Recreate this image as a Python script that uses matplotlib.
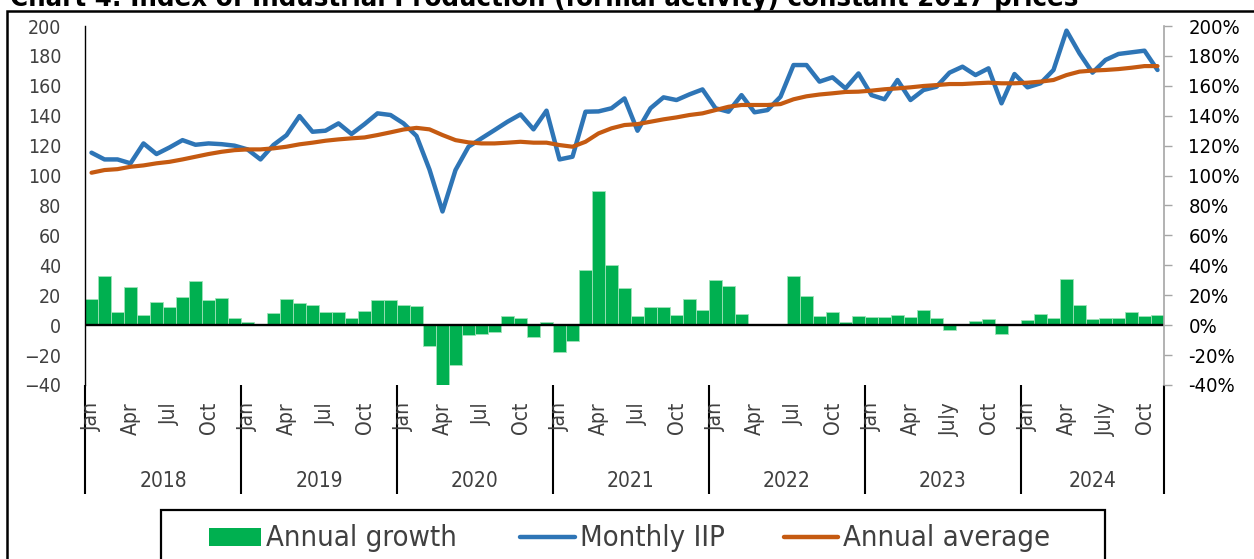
import numpy as np
import matplotlib
matplotlib.use("Agg")
import matplotlib.pyplot as plt
from matplotlib.patches import Rectangle
from matplotlib.lines import Line2D

plt.rcParams['font.family'] = ['DejaVu Sans']
plt.rcParams['font.stretch'] = 'condensed'

# ---------------- data ----------------
years = ['2018', '2019', '2020', '2021', '2022', '2023', '2024']
months_per_year = [12, 12, 12, 12, 12, 12, 11]
month_labels = {
    '2018': ['Jan', 'Apr', 'Jul', 'Oct'],
    '2019': ['Jan', 'Apr', 'Jul', 'Oct'],
    '2020': ['Jan', 'Apr', 'Jul', 'Oct'],
    '2021': ['Jan', 'Apr', 'Jul', 'Oct'],
    '2022': ['Jan', 'Apr', 'Jul', 'Oct'],
    '2023': ['Jan', 'Apr', 'July', 'Oct'],
    '2024': ['Jan', 'Apr', 'July', 'Oct'],
}
label_month_index = [0, 3, 6, 9]

monthly_iip = [115.3, 110.8, 110.8, 108.2, 121.5, 114.4, 118.8, 123.7, 120.6, 121.5, 121.0, 120.0,
               117.5, 110.8, 120.5, 127.0, 139.8, 129.3, 130.0, 134.9, 127.8, 134.4, 141.6, 140.5,
               134.9, 126.5, 104.0, 76.0, 103.7, 119.3, 124.9, 130.4, 136.0, 140.9, 130.9, 143.4,
               110.8, 112.6, 142.7, 142.9, 145.0, 151.6, 130.0, 145.0, 152.3, 150.5, 154.3, 157.6,
               145.0, 142.7, 153.8, 142.3, 143.8, 152.7, 173.9, 173.9, 162.8, 165.7, 158.3, 168.3,
               153.8, 151.0, 163.9, 150.5, 157.2, 159.4, 168.8, 172.8, 167.2, 171.7, 148.3, 167.9,
               159.0, 161.7, 170.6, 196.9, 181.7, 168.8, 177.3, 181.3, 182.4, 183.5, 170.6]

annual_average = [101.9, 103.7, 104.3, 105.9, 106.8, 108.2, 109.2, 110.8, 112.6, 114.4, 115.9, 117.0,
                  117.5, 117.5, 118.2, 119.3, 120.9, 122.0, 123.3, 124.2, 124.9, 125.5, 127.1, 128.9,
                  130.8, 131.9, 130.9, 127.1, 123.7, 122.2, 121.5, 121.5, 122.0, 122.6, 122.0, 122.0,
                  120.4, 119.3, 122.6, 128.2, 131.6, 133.8, 134.4, 136.0, 137.6, 138.9, 140.5, 141.6,
                  143.8, 146.0, 147.2, 147.2, 147.2, 147.8, 151.0, 153.0, 154.2, 155.0, 155.9, 156.1,
                  156.8, 157.7, 158.3, 159.0, 159.9, 160.5, 161.2, 161.2, 161.7, 162.1, 161.7, 161.7,
                  162.1, 162.8, 163.9, 167.2, 169.5, 170.2, 170.6, 171.2, 172.1, 173.2, 173.2]

annual_growth = [17.2, 32.8, 8.5, 25.6, 6.9, 15.8, 12.3, 19.0, 29.4, 16.5, 18.1, 4.7,
                 2.0, 0.3, 7.8, 17.4, 14.5, 13.2, 9.1, 8.5, 5.1, 9.8, 16.5, 16.5,
                 13.8, 12.7, -14.0, -41.2, -26.3, -6.7, -6.2, -4.5, 5.8, 4.5, -7.8, 1.8,
                 -17.8, -10.7, 37.2, 89.6, 40.1, 25.0, 5.8, 12.3, 12.3, 6.7, 17.8, 10.0,
                 30.1, 26.5, 7.6, 0.2, 0.2, 0.5, 33.0, 19.4, 6.0, 8.9, 2.0, 6.0,
                 5.4, 5.4, 6.5, 5.4, 10.0, 4.5, -2.9, 0.0, 2.9, 3.8, -6.2, 0.2,
                 3.3, 7.4, 4.5, 31.0, 13.2, 4.0, 4.7, 4.7, 8.5, 5.8, 6.5]

left_ticks = list(range(-40, 201, 20))
right_tick_labels = [f'{v}%' for v in left_ticks]
title = 'Chart 4: Index of Industrial Production (formal activity) constant 2017 prices'
legend_labels = ['Annual growth', 'Monthly IIP', 'Annual average']

GREEN = '#00B050'
BLUE = '#2E75B6'
ORANGE = '#C55A11'
GREY_TXT = '#404040'

# ---------------- figure ----------------
W, H = 1254, 559
fig = plt.figure(figsize=(W / 100, H / 100), dpi=100)


def fx(px):
    return px / W


def fy(py):
    return 1 - py / H


ax_l, ax_r, ax_t, ax_b = 85, 1164, 26, 385
ax = fig.add_axes([fx(ax_l), fy(ax_b), fx(ax_r) - fx(ax_l), fy(ax_t) - fy(ax_b)])
n = len(monthly_iip)
x = np.arange(n)

ax.bar(x, annual_growth, width=1.0, color=GREEN, edgecolor='#9fe2b8', linewidth=0.6, zorder=2)
ax.axhline(0, color='black', lw=1.7, zorder=2.5)
ax.plot(x, monthly_iip, color=BLUE, lw=3.2, zorder=3, solid_capstyle='round')
ax.plot(x, annual_average, color=ORANGE, lw=3.0, zorder=4, solid_capstyle='round')

ax.set_xlim(-0.5, n - 0.5)
ax.set_ylim(-40, 200)
ax.set_yticks(left_ticks)
ax.tick_params(axis='y', length=0, pad=17, labelsize=14, labelcolor=GREY_TXT)
ax.set_xticks([])
for s in ['top', 'bottom', 'right']:
    ax.spines[s].set_visible(False)
ax.spines['left'].set_color('black')
ax.spines['left'].set_linewidth(1.0)

ax2 = ax.twinx()
ax2.set_ylim(-40, 200)
ax2.set_yticks(left_ticks)
ax2.set_yticklabels(right_tick_labels)
ax2.tick_params(axis='y', length=5.5, width=1, color='#A6A6A6', pad=12, labelsize=14.5,
                labelcolor='black')
for s in ['top', 'bottom', 'left']:
    ax2.spines[s].set_visible(False)
ax2.spines['right'].set_color('#A6A6A6')
ax2.spines['right'].set_linewidth(1.2)

# category axis (multi level)
trans = ax.get_xaxis_transform()
axh = ax_b - ax_t
start = 0
bounds = [-0.5]
for yr, m in zip(years, months_per_year):
    for li, mi in enumerate(label_month_index):
        if mi < m:
            ax.text(start + mi, -17 / axh, month_labels[yr][li], rotation=90, ha='center', va='top',
                    transform=trans, fontsize=15, color=GREY_TXT, clip_on=False)
    ax.text(start + (m - 1) / 2, -96 / axh, yr, ha='center', va='center', transform=trans,
            fontsize=15, color=GREY_TXT, clip_on=False)
    start += m
    bounds.append(start - 0.5)
for b in bounds:
    ax.plot([b, b], [0, -109 / axh], transform=trans, color='black', lw=1.5, clip_on=False,
            solid_capstyle='butt')

# title (clipped at top, as in the source image) and outer frame
fig.text(fx(10), fy(6), title, fontsize=19.7, fontweight='bold', va='baseline', ha='left')
fig.add_artist(Rectangle((fx(7), -0.5), 2, fy(10.5) + 0.5, transform=fig.transFigure,
                         fill=False, ec='black', lw=1.8))

# legend (manual)
fig.add_artist(Rectangle((fx(161), -0.5), fx(1105) - fx(161), fy(510) + 0.5,
                         transform=fig.transFigure, fill=False, ec='black', lw=1.6))
fig.add_artist(Rectangle((fx(209), fy(546)), fx(261) - fx(209), fy(528) - fy(546),
                         transform=fig.transFigure, fc=GREEN, ec='none'))
fig.add_artist(Line2D([fx(520), fx(575)], [fy(537), fy(537)], transform=fig.transFigure,
                      color=BLUE, lw=3.2, solid_capstyle='round'))
fig.add_artist(Line2D([fx(784), fx(838)], [fy(537), fy(537)], transform=fig.transFigure,
                      color=ORANGE, lw=3.2, solid_capstyle='round'))
for tx, lab in zip([266, 580, 843], legend_labels):
    fig.text(fx(tx), fy(546.5), lab, fontsize=21, color=GREY_TXT, va='baseline', ha='left')

fig.savefig('out.png', dpi=100)
